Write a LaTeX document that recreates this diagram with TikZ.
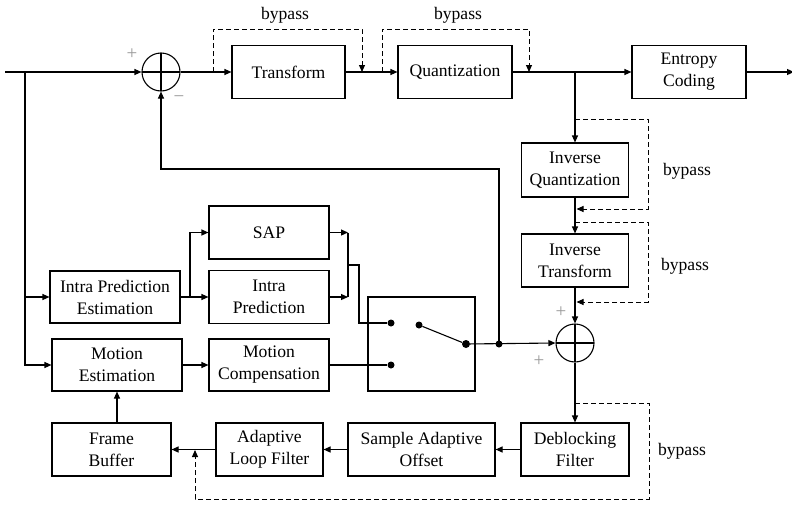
\documentclass[tikz,border=0pt]{standalone}
\usepackage{fontspec}
\setmainfont{Liberation Serif}
\newfontfamily\tnr{Liberation Serif}
\usetikzlibrary{arrows.meta}
\begin{document}
\begin{tikzpicture}[x=1pt,y=-1pt,
 blk/.style={draw,line width=1.1pt,align=center,inner sep=0pt,font=\tnr\fontsize{17.6}{22}\selectfont},
 sumn/.style={draw,circle,line width=1.1pt,minimum size=38pt,inner sep=0pt,
   path picture={\draw[line width=1.1pt] (path picture bounding box.north) -- (path picture bounding box.south)
     (path picture bounding box.west) -- (path picture bounding box.east);}},
 ar/.style={-{Triangle[length=7pt,width=6pt]}},
 ln/.style={line width=1.1pt},
 byp/.style={line width=1pt,dash pattern=on 5pt off 3pt},
 lbl/.style={font=\tnr\fontsize{17.6}{22}\selectfont},
 sgn/.style={font=\tnr\fontsize{19}{19}\selectfont,text=gray!80},
 dot/.style={circle,fill,inner sep=0pt,minimum size=7pt}]
\useasboundingbox (0,0) rectangle (792,506);

% blocks
\node[blk,minimum width=113pt,minimum height=53pt] (T) at (288.5,72) {Transform};
\node[blk,minimum width=114pt,minimum height=53pt] (Q) at (455,72) {Quantization};
\node[blk,minimum width=114pt,minimum height=53pt] (EC) at (689,72) {Entropy\\Coding};
\node[blk,minimum width=107pt,minimum height=54pt] (IQ) at (575,170) {Inverse\\Quantization};
\node[blk,minimum width=107pt,minimum height=53pt] (IT) at (575,260.5) {Inverse\\Transform};
\node[blk,minimum width=108pt,minimum height=53pt] (DF) at (575,449.5) {Deblocking\\Filter};
\node[blk,minimum width=147pt,minimum height=53pt] (SAO) at (421.5,449.5) {Sample Adaptive\\Offset};
\node[blk,minimum width=107pt,minimum height=53pt] (ALF) at (269.5,449.5) {Adaptive\\Loop Filter};
\node[blk,minimum width=119pt,minimum height=53pt] (FB) at (111.5,449.5) {Frame\\Buffer};
\node[blk,minimum width=130pt,minimum height=52pt] (IPE) at (115,297) {Intra Prediction\\Estimation};
\node[blk,minimum width=130pt,minimum height=52pt] (ME) at (117,365) {Motion\\Estimation};
\node[blk,minimum width=120pt,minimum height=53pt] (SAP) at (269,232.5) {SAP};
\node[blk,minimum width=120pt,minimum height=53pt] (IP) at (269,297) {Intra\\Prediction};
\node[blk,minimum width=120pt,minimum height=52pt] (MC) at (269,365) {Motion\\Compensation};
\node[blk,minimum width=107pt,minimum height=94pt] (SW) at (421.5,344) {};

% summing junctions
\node[sumn] (S1) at (161,72) {};
\node[sumn] (S2) at (575,343) {};

% switch dots
\node[dot] (dA) at (391,323) {};
\node[dot] (dB) at (391,365) {};
\node[dot] (dP) at (419,325) {};
\node[dot,minimum size=8pt] (dO) at (466,344) {};
\node[dot] (dJ) at (499,344) {};

% coordinates
\coordinate (in) at (5,72);
\coordinate (br) at (25,72);
\coordinate (out) at (794,72);
\coordinate (j1) at (575,72);
\coordinate (sp) at (190,297);
\coordinate (m1) at (348,232.5);
\coordinate (m2) at (348,297);
\coordinate (m3) at (348,265);
\coordinate (b1a) at (213,72);
\coordinate (b1b) at (362,72);
\coordinate (b2a) at (382,72);
\coordinate (b2b) at (529,72);
\coordinate (q1) at (575,119);
\coordinate (q2) at (576.5,209);
\coordinate (t1) at (575,222);
\coordinate (t2) at (576.5,302);
\coordinate (d1) at (575,403);
\coordinate (d2) at (195,450);

% forward path
\draw[ln,ar] (in) -- (S1.west);
\draw[ln,ar] (S1.east) -- (T.west);
\draw[ln,ar] (T.east) -- (Q.west);
\draw[ln,ar] (Q.east) -- (EC.west);
\draw[ln,ar] (EC.east) -- (out);
\draw[ln,ar] (j1) -- (IQ.north);
\draw[ln,ar] (IQ.south) -- (IT.north);
\draw[ln,ar] (IT.south) -- (S2.north);
\draw[ln,ar] (S2.south) -- (DF.north);
\draw[ln,ar] (DF.west) -- (SAO.east);
\draw[ln,ar] (SAO.west) -- (ALF.east);
\draw[ln,ar] (ALF.west) -- (FB.east);
\draw[ln,ar] (ME.south |- FB.north) -- (ME.south);

% prediction
\draw[ln,ar] (br) |- (IPE.west);
\draw[ln,ar] (br) |- (ME.west);
\draw[ln] (IPE.east) -- (sp);
\draw[ln,ar] (sp) |- (SAP.west);
\draw[ln,ar] (sp) -- (IP.west);
\draw[ln,ar] (ME.east) -- (MC.west);
\draw[ln,ar] (SAP.east) -- (m1);
\draw[ln,ar] (IP.east) -- (m2);
\draw[ln] (m1) -- (m2);
\draw[ln] (m3) -- ++(11,0) |- (dA);
\draw[ln] (MC.east) -- (dB);
\draw[ln] (dP) -- (dO);
\draw[ln,ar] (dO) -- (S2.west);
\draw[ln,ar] (dJ.center) -- (499,169) -| (S1.south);

% bypasses
\draw[byp,ar] (b1a) -- ++(0,-43) -| (b1b);
\draw[byp,ar] (b2a) -- ++(0,-43) -| (b2b);
\draw[byp,ar] (q1) -- ++(73,0) |- (q2);
\draw[byp,ar] (t1) -- ++(73,0) |- (t2);
\draw[byp,ar] (d1) -- (649,403) -- (649,499) -| (d2);

% labels
\node[lbl] (l1) at (285,15) {bypass};
\node[lbl] (l2) at (458,15) {bypass};
\node[lbl] (l3) at (687,171) {bypass};
\node[lbl] (l4) at (685,266) {bypass};
\node[lbl] (l5) at (682,451) {bypass};
\node[sgn] (s1) at (132,54) {+};
\node[sgn] (s2) at (179,99) {−};
\node[sgn] (s3) at (561,312) {+};
\node[sgn] (s4) at (539,361) {+};
\end{tikzpicture}
\end{document}
